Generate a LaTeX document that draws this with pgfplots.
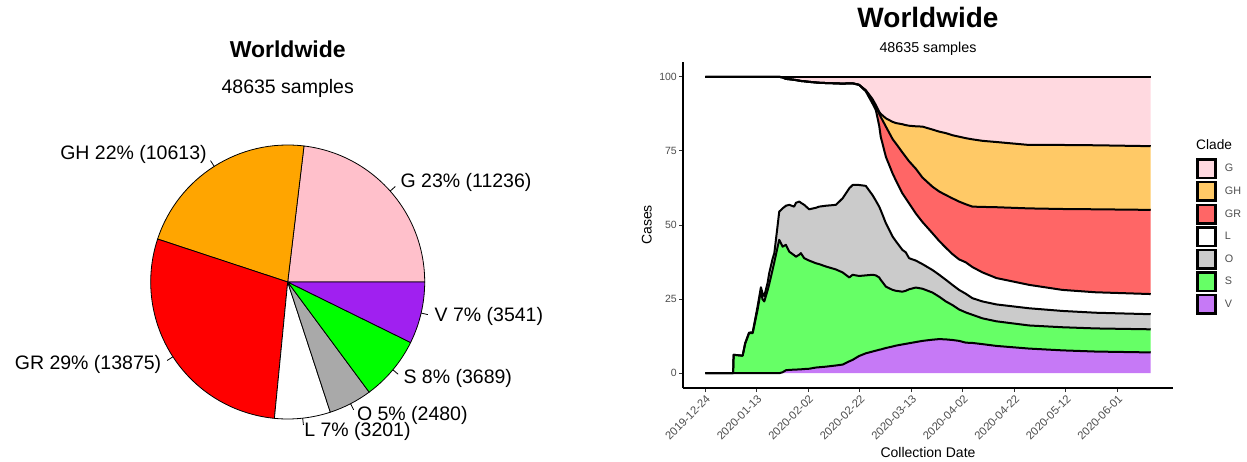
\documentclass[border=0pt]{standalone}
\usepackage{fontspec}
\setmainfont{Liberation Sans}
\usepackage{pgfplots}
\usepackage{pgfplotstable}
\pgfplotsset{compat=1.18}

\definecolor{pie0}{HTML}{FFC0CB}
\definecolor{pie1}{HTML}{FFA500}
\definecolor{pie2}{HTML}{FF0000}
\definecolor{pie3}{HTML}{FFFFFF}
\definecolor{pie4}{HTML}{A9A9A9}
\definecolor{pie5}{HTML}{00FF00}
\definecolor{pie6}{HTML}{A020F0}
\definecolor{arG}{HTML}{FFD9E0}
\definecolor{arGH}{HTML}{FFC966}
\definecolor{arGR}{HTML}{FF6666}
\definecolor{arL}{HTML}{FFFFFF}
\definecolor{arO}{HTML}{CBCBCB}
\definecolor{arS}{HTML}{66FF66}
\definecolor{arV}{HTML}{C679F6}
\definecolor{gray30}{HTML}{4D4D4D}
\definecolor{gray20}{HTML}{333333}

\pgfplotstableread{
clade count pct
G 11236 23
GH 10613 22
GR 13875 29
L 3201 7
O 2480 5
S 3689 8
V 3541 7
}\piedata

% cumulative boundaries of the stacked shares (V, +S, +O, +L, +GR, +GH, +G)
\pgfplotstableread{
d b0 b1 b2 b3 b4 b5 b6 b7
0 0 0 0 0 100 100 100 100
10.8 0 0 0 0 100 100 100 100
11 0 0 6.2 6.2 100 100 100 100
14.5 0 0 5.9 5.9 100 100 100 100
15.5 0 0 10 10.2 100 100 100 100
17 0 0 13.5 13.7 100 100 100 100
18.4 0 0 13.5 13.8 100 100 100 100
20.3 0 0 21.4 22.5 100 100 100 100
21.6 0 0 28 29 100 100 100 100
22.2 0 0 25 27 100 100 100 100
22.9 0 0 24.2 26 100 100 100 100
24.2 0 0 28 30.5 100 100 100 100
24.8 0 0 30 33.7 100 100 100 100
26.1 0 0 34.8 38.5 100 100 100 100
26.8 0 0 37.5 40.5 100 100 100 100
28.1 0 0 42.7 50 100 100 100 100
28.7 0 0 45 54.5 100 100 100 100
30 0 0.3 42.7 55.6 99.8 99.8 99.8 100
31.3 0 1.0 43.3 56.5 99.3 99.3 99.3 100
32.6 0 1.1 41 56.8 99.2 99.2 99.2 100
34.5 0 1.2 39.8 56.2 99 99 99 100
35.2 0 1.2 39.3 57.5 98.9 98.9 98.9 100
36.5 0 1.3 40 57.9 98.7 98.7 98.7 100
37.1 0 1.3 40.5 57.5 98.6 98.6 98.6 100
38.4 0 1.4 38.8 56.8 98.5 98.5 98.5 100
40.3 0 1.5 38 55.3 98.3 98.3 98.3 100
42.9 0 1.9 37.1 55.8 98.1 98.1 98.1 100
44.2 0 2.0 36.8 56.2 98 98 98 100
46.8 0 2.2 36 56.5 97.9 97.9 97.9 100
50.7 0 2.6 35 56.8 97.8 97.8 97.8 100
53.3 0 2.9 34 59 97.7 97.7 97.7 100
55.9 0 4.0 32.3 62.4 97.8 97.8 97.8 100
57.2 0 4.5 33.2 63.5 97.8 97.8 97.8 100
59.7 0 5.8 32.8 63.5 97.3 97.3 97.3 100
62.3 0 6.7 33 63.2 95.1 95.3 95.5 100
64.9 0 7.3 33.2 60.1 91 92 92.5 100
66.2 0 7.6 33 58.2 88.8 89.8 90.5 100
67.5 0 7.9 32.3 56.2 83.5 87.5 88.2 100
68.1 0 8.0 31.5 55 79.8 86.5 87.5 100
70.1 0 8.5 29.2 50.6 73 83.2 86 100
72.7 0 9.0 28.1 46.1 67.4 79 84.8 100
74 0 9.3 27.8 44.5 65 77.5 84.4 100
76.5 0 9.7 27.5 41.6 60.7 74.5 84 100
77.8 0 9.9 27.8 40.8 59 73 83.7 100
79.1 0 10.1 28.3 38.8 57.3 71.5 83.5 100
81.7 0 10.5 28.9 38 53.9 69 83.3 100
84.3 0 10.9 28.5 36.8 51 66 83.2 100
88.2 0 11.3 27.2 34.8 47.2 62.9 82.2 100
90.8 0 11.5 25.8 33.2 44.6 61.3 81.5 100
93.4 0 11.4 24.2 31.5 42.3 60.1 81 100
95.9 0 11.2 23 29.8 40.2 59 80.3 100
98.5 0 10.9 21.5 28.1 38.4 57.9 79.8 100
101.1 0 10.3 20.5 26.8 37.4 57 79.3 100
103.7 0 10.2 19.7 25.3 35.8 56.2 78.9 100
107.6 0 9.8 18.5 24.2 34 56.1 78.4 100
113 0 9.2 17.5 23.2 32.1 56 78 100
125.7 0 8.3 16.1 21.9 29.8 55.6 77 100
138.6 0 7.7 15.5 21 28.1 55.4 77 100
151.5 0 7.3 15.1 20.4 27.3 55.3 76.9 100
172.9 0 7.0 14.8 19.9 26.7 55.1 76.6 100
}\cladedata

\newcommand\piesetup{%
  \gdef\pietotal{0}%
  \foreach \i in {0,...,6}{%
    \pgfplotstablegetelem{\i}{count}\of\piedata
    \pgfmathsetmacro\tmp{\pietotal+\pgfplotsretval/1000}\xdef\pietotal{\tmp}}%
  \gdef\pieacc{0}%
  \foreach \i in {0,...,6}{%
    \pgfplotstablegetelem{\i}{count}\of\piedata \let\cnt\pgfplotsretval
    \pgfplotstablegetelem{\i}{clade}\of\piedata \let\cl\pgfplotsretval
    \pgfplotstablegetelem{\i}{pct}\of\piedata \let\pc\pgfplotsretval
    \pgfmathsetmacro\sa{\pieacc/\pietotal*360}%
    \pgfmathsetmacro\tmp{\pieacc+\cnt/1000}\xdef\pieacc{\tmp}%
    \pgfmathsetmacro\ea{\pieacc/\pietotal*360}%
    \pgfmathsetmacro\ma{(\sa+\ea)/2}%
    \pgfmathsetmacro\cm{cos(\ma)}%
    \ifdim\cm pt>0pt \def\anc{west}\else\def\anc{east}\fi
    \expandafter\xdef\csname pieS\i\endcsname{\sa}%
    \expandafter\xdef\csname pieE\i\endcsname{\ea}%
    \expandafter\xdef\csname pieM\i\endcsname{\ma}%
    \expandafter\xdef\csname pieA\i\endcsname{\anc}%
    \expandafter\xdef\csname pieL\i\endcsname{\cl\space\pc\noexpand\%\space(\cnt)}%
  }}

\pgfplotsset{areaframe/.style={at={(683pt,73pt)}, anchor=south west,
  scale only axis, width=490pt, height=326pt,
  xmin=-8.645, xmax=181.545, ymin=-5, ymax=105, clip=false}}

\begin{document}
\piesetup
\begin{tikzpicture}
\path[use as bounding box] (0pt,0pt) rectangle (1247pt,461pt);

% ---------------- Pie chart ----------------
\begin{axis}[at={(287.7pt,179pt)}, anchor=center,
  x=137pt, y=137pt, xmin=-2.1, xmax=2.1, ymin=-1.3, ymax=1.3,
  hide axis, clip=false]
\pgfplotsinvokeforeach{0,...,6}{
  \draw[fill=pie#1, draw=black, line width=0.8pt, line join=round]
    (axis cs:0,0) -- (axis cs:{cos(\csname pieS#1\endcsname)},{sin(\csname pieS#1\endcsname)})
    arc[start angle=\csname pieS#1\endcsname, end angle=\csname pieE#1\endcsname, radius=137pt] -- cycle;
}
\pgfplotsinvokeforeach{0,...,6}{
  \draw[black, line width=0.8pt]
    (axis cs:{cos(\csname pieM#1\endcsname)},{sin(\csname pieM#1\endcsname)}) --
    (axis cs:{1.05*cos(\csname pieM#1\endcsname)},{1.05*sin(\csname pieM#1\endcsname)});
  \node[anchor=\csname pieA#1\endcsname, inner sep=0pt, font=\fontsize{19.5}{22}\selectfont]
    at (axis cs:{1.1*cos(\csname pieM#1\endcsname)},{1.1*sin(\csname pieM#1\endcsname)})
    {\csname pieL#1\endcsname};
}
\node[anchor=base, inner sep=0pt, font=\bfseries\fontsize{23}{26}\selectfont] at (axis cs:0,1.640) {Worldwide};
\node[anchor=base, inner sep=0pt, font=\fontsize{19.5}{22}\selectfont] at (axis cs:0,1.377) {48635 samples};
\end{axis}

% ---------------- Stacked area chart: filled bands ----------------
\begin{axis}[areaframe, stack plots=y,
  axis x line*=bottom, axis y line*=left,
  axis line style={line width=1.2pt, black, -},
  tick align=outside, major tick length=4pt,
  tick style={line width=1pt, color=gray20},
  xtick={0,20,40,60,80,100,120,140,160},
  xticklabels={2019-12-24,2020-01-13,2020-02-02,2020-02-22,2020-03-13,2020-04-02,2020-04-22,2020-05-12,2020-06-01},
  ytick={0,25,50,75,100},
  /pgf/number format/assume math mode=true,
  ticklabel style={text=gray30},
  xticklabel style={font=\fontsize{11.3}{13}\selectfont, rotate=45, anchor=north east, inner sep=1.5pt},
  yticklabel style={font=\fontsize{10.5}{12}\selectfont, anchor=east, inner sep=2pt},
  xlabel={Collection Date}, ylabel={Cases},
  label style={font=\fontsize{14}{16}\selectfont},
  xlabel style={at={(axis description cs:0.5,-0.199)}, anchor=center},
  ylabel style={at={(axis description cs:-0.0741,0.5)}, anchor=center},
  reverse legend,
  legend style={at={(axis description cs:1.0469,0.7046)}, anchor=north west,
    draw=none, fill=none, inner sep=0pt, outer sep=0pt, row sep=1.6pt,
    font=\fontsize{10.8}{12}\selectfont, text=gray30,
    nodes={inner sep=0pt, outer sep=0pt},
    /tikz/every odd column/.append style={column sep=8.3pt}},
  legend cell align=left,
  legend image code/.code={\draw[#1, draw=black, line width=2.5pt] (1.25pt,-9.25pt) rectangle (19.45pt,9.25pt);},
]
\addplot[fill=arV, draw=none] table[x=d, y expr=\thisrow{b1}-\thisrow{b0}] {\cladedata} \closedcycle;
\addlegendentry{V}
\addplot[fill=arS, draw=none] table[x=d, y expr=\thisrow{b2}-\thisrow{b1}] {\cladedata} \closedcycle;
\addlegendentry{S}
\addplot[fill=arO, draw=none] table[x=d, y expr=\thisrow{b3}-\thisrow{b2}] {\cladedata} \closedcycle;
\addlegendentry{O}
\addplot[fill=arL, draw=none] table[x=d, y expr=\thisrow{b4}-\thisrow{b3}] {\cladedata} \closedcycle;
\addlegendentry{L}
\addplot[fill=arGR, draw=none] table[x=d, y expr=\thisrow{b5}-\thisrow{b4}] {\cladedata} \closedcycle;
\addlegendentry{GR}
\addplot[fill=arGH, draw=none] table[x=d, y expr=\thisrow{b6}-\thisrow{b5}] {\cladedata} \closedcycle;
\addlegendentry{GH}
\addplot[fill=arG, draw=none] table[x=d, y expr=\thisrow{b7}-\thisrow{b6}] {\cladedata} \closedcycle;
\addlegendentry{G}
\node[anchor=base, inner sep=0pt, font=\bfseries\fontsize{28}{32}\selectfont] at (axis description cs:0.5,1.1052) {Worldwide};
\node[anchor=base, inner sep=0pt, font=\fontsize{14.3}{16}\selectfont] at (axis description cs:0.5,1.0298) {48635 samples};
\node[anchor=base west, inner sep=0pt, font=\fontsize{13.7}{15}\selectfont] at (axis description cs:1.0469,0.7322) {Clade};
\end{axis}

% ---------------- Stacked area chart: upper outlines ----------------
\begin{axis}[areaframe, hide axis]
\addplot[black, line width=2pt, line join=round] table[x=d, y=b7] {\cladedata};
\addplot[black, line width=2pt, line join=round] table[x=d, y=b6] {\cladedata};
\addplot[black, line width=2pt, line join=round] table[x=d, y=b5] {\cladedata};
\addplot[black, line width=2pt, line join=round] table[x=d, y=b4] {\cladedata};
\addplot[black, line width=2pt, line join=round] table[x=d, y=b3] {\cladedata};
\addplot[black, line width=2pt, line join=round] table[x=d, y=b2] {\cladedata};
\addplot[black, line width=2pt, line join=round] table[x=d, y=b1] {\cladedata};
\end{axis}
\end{tikzpicture}
\end{document}
